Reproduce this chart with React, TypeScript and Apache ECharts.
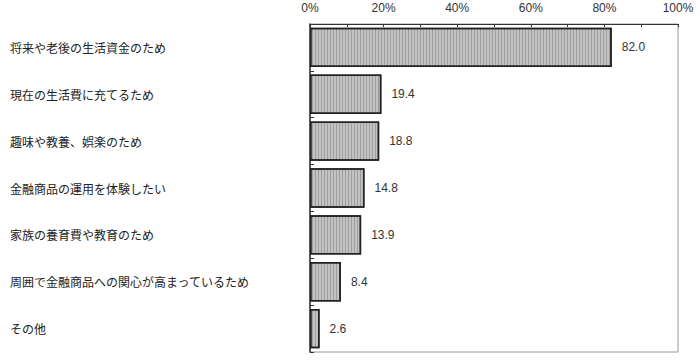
import React, { useEffect, useRef } from "react";
import * as echarts from "echarts";

const categories = [
  "将来や老後の生活資金のため",
  "現在の生活費に充てるため",
  "趣味や教養、娯楽のため",
  "金融商品の運用を体験したい",
  "家族の養育費や教育のため",
  "周囲で金融商品への関心が高まっているため",
  "その他",
];
const values = [82.0, 19.4, 18.8, 14.8, 13.9, 8.4, 2.6];
const tickLabels = ["0%", "20%", "40%", "60%", "80%", "100%"];

const FONT = "'Noto Sans CJK JP', 'Noto Sans', sans-serif";
const NUMFONT = "'Liberation Sans', Arial, sans-serif";

export default function App() {
  const ref = useRef<HTMLDivElement>(null);
  useEffect(() => {
    if (!ref.current) return;
    const chart = echarts.init(ref.current, undefined, { renderer: "svg" });
    chart.setOption({
      animation: false,
      backgroundColor: "#ffffff",
      grid: {
        left: 310,
        right: 22,
        top: 24,
        bottom: 9,
        show: true,
        borderColor: "#9a9a9a",
        borderWidth: 1,
      },
      xAxis: {
        type: "value",
        position: "top",
        min: 0,
        max: 100,
        interval: 20,
        axisLine: { show: true, lineStyle: { color: "#333", width: 1 } },
        axisTick: { show: true, inside: true, length: 3, lineStyle: { color: "#333" } },
        minorTick: { show: true, splitNumber: 2, length: 3, lineStyle: { color: "#333" } },
        splitLine: { show: false },
        axisLabel: {
          color: "#333",
          fontSize: 12,
          fontFamily: NUMFONT,
          margin: 16,
          verticalAlign: "middle",
          formatter: (v: number) => tickLabels[Math.round(v / 20)] ?? v + "%",
        },
      },
      yAxis: {
        type: "category",
        data: categories,
        inverse: true,
        axisLine: { show: true, lineStyle: { color: "#333", width: 1.5 } },
        axisTick: { show: true, inside: true, length: 4, lineStyle: { color: "#333" } },
        axisLabel: {
          color: "#222",
          fontSize: 12,
          fontFamily: FONT,
          align: "left",
          margin: 300,
        },
      },
      series: [
        {
          type: "bar",
          data: values,
          barCategoryGap: "16%",
          itemStyle: {
            color: "#c2c2c2",
            borderColor: "#222",
            borderWidth: 1.5,
            decal: {
              symbol: "rect",
              symbolSize: 1,
              dashArrayX: [1, 2],
              dashArrayY: [10, 0],
              rotation: 0,
              color: "rgba(0,0,0,0.18)",
            },
          },
          label: {
            show: true,
            position: "right",
            distance: 10,
            color: "#333",
            fontSize: 12,
            fontFamily: NUMFONT,
            formatter: (p: any) => Number(p.value).toFixed(1),
          },
        },
      ],
    });
    return () => chart.dispose();
  }, []);
  return (
    <div
      ref={ref}
      style={{ position: "absolute", left: 0, top: 0, width: 700, height: 361 }}
    />
  );
}
